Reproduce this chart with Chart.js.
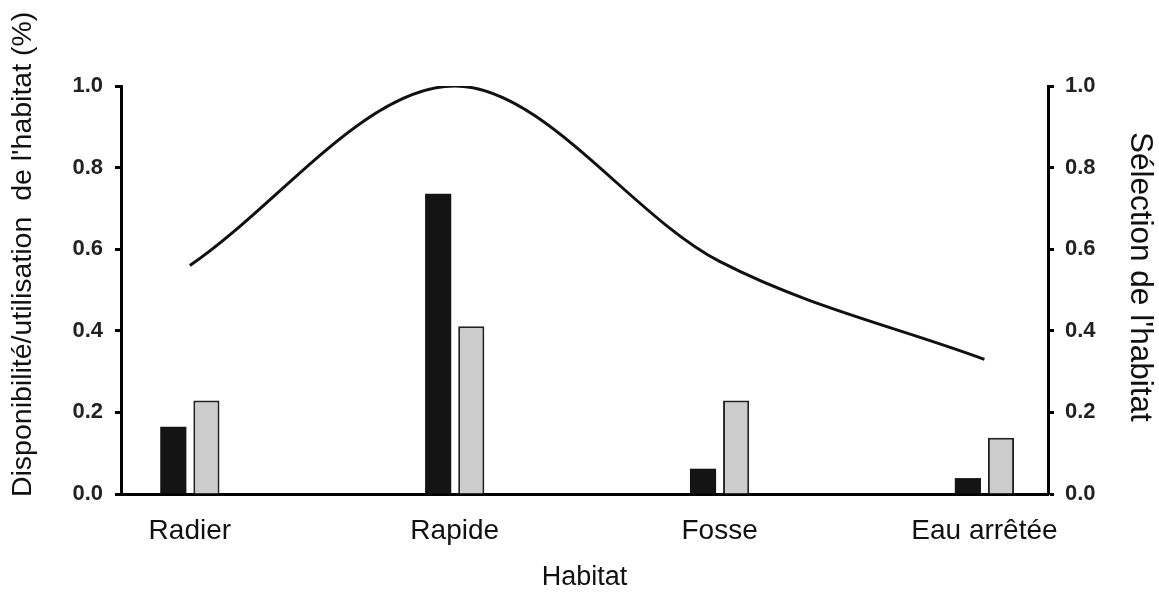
<!DOCTYPE html>
<html>
<head>
<meta charset="utf-8">
<script src="https://cdn.jsdelivr.net/npm/chart.js@4"></script>
<style>
  html, body { margin: 0; padding: 0; background: #fff; }
  #wrap { width: 1159px; height: 592px; position: relative; }
</style>
</head>
<body>
<div id="wrap"><canvas id="chart"></canvas></div>
<script>
// Habitat categories and values
const categories = ['Radier', 'Rapide', 'Fosse', 'Eau arrêtée'];
const disponibilite = [0.165, 0.736, 0.062, 0.039];   // black bars
const utilisation = [0.229, 0.411, 0.229, 0.138];     // grey bars
const selection = [0.56, 1.0, 0.57, 0.33];            // curve, right axis
const yTicks = [0, 0.2, 0.4, 0.6, 0.8, 1.0];

const toPoints = arr => arr.map((v, i) => ({ x: i, y: v }));

const tickFont = { family: 'Liberation Sans, Arial, sans-serif', size: 22, weight: 'bold' };
const textFont = { family: 'Liberation Sans, Arial, sans-serif', size: 27 };

function yAxis(position, title, widthPx, titlePad, labelPad, titleSize) {
  return {
    type: 'linear',
    position: position,
    min: 0,
    max: 1,
    afterBuildTicks: s => { s.ticks = yTicks.map(v => ({ value: v })); },
    afterFit: s => { s.width = widthPx; },
    ticks: {
      color: '#222',
      font: tickFont,
      padding: labelPad,
      callback: v => Number(v).toFixed(1)
    },
    grid: { drawOnChartArea: false, drawTicks: true, tickLength: 6, tickWidth: 3, color: '#000' },
    border: { display: true, color: '#000', width: 3 },
    title: {
      display: true, text: title, color: '#111',
      font: Object.assign({}, textFont, { size: titleSize }),
      padding: { top: titlePad, bottom: 0 }
    }
  };
}

new Chart(document.getElementById('chart'), {
  type: 'bar',
  data: {
    datasets: [
      {
        type: 'line',
        label: "Sélection de l'habitat",
        data: toPoints(selection),
        yAxisID: 'y2',
        borderColor: '#111',
        borderWidth: 3,
        pointRadius: 0,
        fill: false,
        cubicInterpolationMode: 'monotone',
        order: 0
      },
      {
        label: 'Disponibilité',
        data: toPoints(disponibilite),
        yAxisID: 'y',
        backgroundColor: '#141414',
        borderColor: '#000',
        borderWidth: 0,
        categoryPercentage: 0.25,
        barPercentage: 0.79,
        order: 1
      },
      {
        label: 'Utilisation',
        data: toPoints(utilisation),
        yAxisID: 'y',
        backgroundColor: '#cccccc',
        borderColor: '#222',
        borderWidth: 2,
        categoryPercentage: 0.25,
        barPercentage: 0.79,
        order: 1
      }
    ]
  },
  options: {
    responsive: true,
    maintainAspectRatio: false,
    animation: false,
    layout: { padding: { left: 0, right: 0, top: 86, bottom: 0 } },
    plugins: { legend: { display: false }, tooltip: { enabled: false } },
    scales: {
      x: {
        type: 'linear',
        offset: false,
        min: -0.26,
        max: 3.24,
        z: 1,
        afterBuildTicks: s => { s.ticks = categories.map((c, i) => ({ value: i })); },
        afterFit: s => { s.height = 98; },
        ticks: {
          color: '#111',
          font: { family: 'Liberation Sans, Arial, sans-serif', size: 28 },
          padding: 12,
          maxRotation: 0,
          callback: v => categories[v]
        },
        grid: { display: false },
        border: { display: true, color: '#000', width: 3 },
        title: {
          display: true, text: 'Habitat', color: '#111',
          font: { family: 'Liberation Sans, Arial, sans-serif', size: 27, lineHeight: 1.0 },
          padding: { top: 0, bottom: 1 }
        }
      },
      y: yAxis('left', "         Disponibilité/utilisation  de l'habitat (%)", 121, 6, 12, 28.5),
      y2: yAxis('right', "Sélection de l'habitat   ", 111, 0, 11, 31.5)
    }
  }
});
</script>
</body>
</html>
